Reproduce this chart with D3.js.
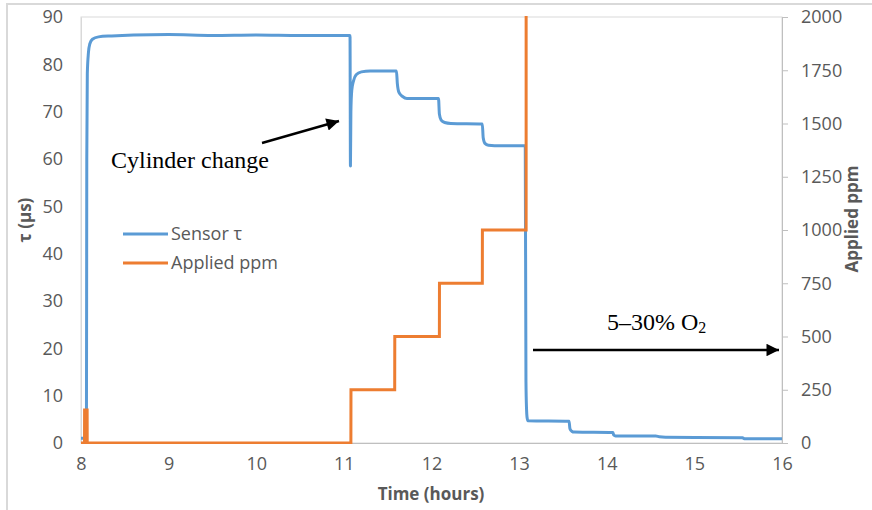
<!DOCTYPE html>
<html><head><meta charset="utf-8">
<script src="https://cdn.jsdelivr.net/npm/d3@7"></script>
<style>
body{margin:0;background:#fff;}
svg{display:block;}
</style></head>
<body>
<svg id="chart" width="872" height="510"></svg>
<script>
// Sensor τ (µs) vs time (hours)
const sensorTime = [8.0,8.05,8.062,8.066,8.072,8.085,8.1,8.13,8.2,8.35,8.6,9.0,9.5,10.0,10.5,11.07,
  11.075,11.08,11.09,11.11,11.14,11.2,11.3,11.6,11.61,11.63,11.67,11.72,12.08,12.09,12.11,12.15,12.22,12.58,12.59,12.61,12.65,12.72,
  13.07,13.078,13.085,13.09,13.1,13.57,13.58,13.6,13.63,14.07,14.08,14.1,14.56,14.6,14.67,15.55,15.57,16.0];
const sensorTau = [1.0,1.0,1.0,60,78,82.5,84.3,85.3,85.8,86.0,86.2,86.3,86.1,86.2,86.1,86.1,
  58.5,70,74.5,76.5,77.8,78.4,78.6,78.6,76,74,73.2,72.8,72.8,69.5,68.2,67.7,67.5,67.4,64.5,63.3,62.9,62.8,
  62.8,13,7,5.5,4.7,4.6,3.0,2.5,2.3,2.2,1.7,1.5,1.5,1.3,1.2,1.1,0.9,0.9];
// Applied ppm vs time (hours)
const ppmTime = [8.0,8.04,8.041,8.07,8.071,11.08,11.081,11.58,11.581,12.09,12.091,12.58,12.581,13.08,13.081,16.0];
const ppmValue = [0,0,155,155,0,0,250,250,500,500,750,750,1000,1000,50000,50000];

const leftTicks = [0,10,20,30,40,50,60,70,80,90];
const rightTicks = [0,250,500,750,1000,1250,1500,1750,2000];
const xTicks = [8,9,10,11,12,13,14,15,16];

const svg = d3.select("#chart");
const L = 81, R = 782, T = 17, B = 443;
const x = d3.scaleLinear().domain([8,16]).range([L,R]);
const yL = d3.scaleLinear().domain([0,90]).range([B,T]);
const yR = d3.scaleLinear().domain([0,2000]).range([B,T]);
const grey = "#595959";
const font = "'Open Sans', sans-serif";

// outer chart border
svg.append("rect").attr("x",7).attr("y",4).attr("width",880).attr("height",520)
  .attr("fill","none").attr("stroke","#d9d9d9").attr("stroke-width",2);

// plot area border
svg.append("rect").attr("x",L).attr("y",T).attr("width",R-L).attr("height",B-T)
  .attr("fill","none").attr("stroke","#d9d9d9").attr("stroke-width",1);

// left axis
const gL = svg.append("g").attr("transform",`translate(${L},0)`)
  .call(d3.axisLeft(yL).tickValues(leftTicks).tickSize(0).tickPadding(18));
gL.select(".domain").attr("stroke","#d9d9d9");
gL.selectAll("text").attr("fill",grey).style("font-family",font).style("font-size","18px");

// right axis
const gR = svg.append("g").attr("transform",`translate(${R},0)`)
  .call(d3.axisRight(yR).tickValues(rightTicks).tickSize(6).tickPadding(13).tickFormat(d3.format("d")));
gR.select(".domain").attr("stroke","#bfbfbf");
gR.selectAll(".tick line").attr("stroke","#bfbfbf");
gR.selectAll("text").attr("fill",grey).style("font-family",font).style("font-size","18px");

// bottom axis
const gB = svg.append("g").attr("transform",`translate(0,${B})`)
  .call(d3.axisBottom(x).tickValues(xTicks).tickSize(0).tickPadding(14).tickFormat(d3.format("d")));
gB.select(".domain").attr("stroke","#bfbfbf");
gB.selectAll("text").attr("fill",grey).style("font-family",font).style("font-size","18px");

// axis titles
svg.append("text").attr("transform",`translate(31,220) rotate(-90)`).attr("text-anchor","middle")
  .attr("fill",grey).style("font-family",font).style("font-size","17px").style("font-weight","bold").text("τ (µs)");
svg.append("text").attr("transform",`translate(858,219) rotate(-90)`).attr("text-anchor","middle")
  .attr("fill",grey).style("font-family",font).style("font-size","17px").style("font-weight","bold").text("Applied ppm");
svg.append("text").attr("x",431).attr("y",500).attr("text-anchor","middle")
  .attr("fill",grey).style("font-family",font).style("font-size","17px").style("font-weight","bold").text("Time (hours)");

// clip
svg.append("clipPath").attr("id","clip").append("rect").attr("x",L).attr("y",T-1).attr("width",R-L).attr("height",B-T+2);

const blue = "#5b9bd5", orange = "#ed7d31";
const sensorData = sensorTime.map((t,i)=>[t,sensorTau[i]]);
const ppmData = ppmTime.map((t,i)=>[t,ppmValue[i]]);

svg.append("path").datum(sensorData).attr("clip-path","url(#clip)")
  .attr("fill","none").attr("stroke",blue).attr("stroke-width",3).attr("stroke-linejoin","round")
  .attr("d",d3.line().x(d=>x(d[0])).y(d=>yL(d[1])).curve(d3.curveMonotoneX));
svg.append("path").datum(ppmData).attr("clip-path","url(#clip)")
  .attr("fill","none").attr("stroke",orange).attr("stroke-width",3).attr("stroke-linejoin","miter")
  .attr("d",d3.line().x(d=>x(d[0])).y(d=>yR(d[1])));

// legend
const legend = [["Sensor τ",blue,234],["Applied ppm",orange,263]];
legend.forEach(([label,color,ly])=>{
  svg.append("line").attr("x1",123).attr("x2",168).attr("y1",ly).attr("y2",ly)
    .attr("stroke",color).attr("stroke-width",3);
  svg.append("text").attr("x",171).attr("y",ly).attr("dy","0.35em").attr("fill",grey)
    .style("font-family",font).style("font-size","18px").text(label);
});

// annotations
const defs = svg.append("defs");
defs.append("marker").attr("id","arrow").attr("viewBox","0 0 10 10").attr("refX",10).attr("refY",5)
  .attr("markerWidth",6).attr("markerHeight",5).attr("markerUnits","strokeWidth").attr("orient","auto")
  .append("path").attr("d","M0,0 L10,5 L0,10 Z").attr("fill","#000");

const serif = "'Liberation Serif', 'Times New Roman', serif";
svg.append("text").attr("x",111).attr("y",168).attr("fill","#000")
  .style("font-family",serif).style("font-size","24px").text("Cylinder change");
svg.append("line").attr("x1",262).attr("y1",143).attr("x2",339).attr("y2",121)
  .attr("stroke","#000").attr("stroke-width",2.5).attr("marker-end","url(#arrow)");

const o2 = svg.append("text").attr("x",607).attr("y",330).attr("fill","#000")
  .style("font-family",serif).style("font-size","24px");
o2.append("tspan").text("5–30% O");
o2.append("tspan").attr("dy",3).style("font-size","16px").text("2");
svg.append("line").attr("x1",533).attr("y1",350).attr("x2",779).attr("y2",350)
  .attr("stroke","#000").attr("stroke-width",2.5).attr("marker-end","url(#arrow)");
</script>
</body></html>
